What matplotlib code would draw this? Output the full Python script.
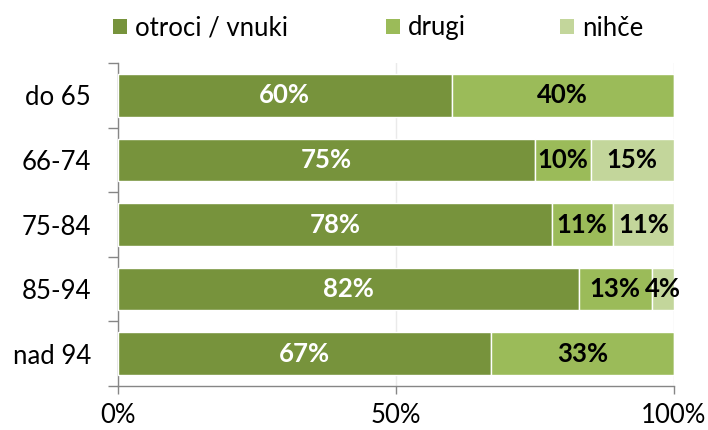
import matplotlib
matplotlib.use("Agg")
import matplotlib.pyplot as plt
from matplotlib.patches import Patch
import numpy as np

plt.rcParams['font.family'] = ['Lato', 'DejaVu Sans']

categories = ["do 65", "66-74", "75-84", "85-94", "nad 94"]
series_names = ["otroci / vnuki", "drugi", "nihče"]
otroci = [60, 75, 78, 82, 67]
drugi = [40, 10, 11, 13, 33]
nihce = [0, 15, 11, 4, 0]
x_ticks = [0, 50, 100]
x_tick_labels = ["0%", "50%", "100%"]

colors = ["#77933C", "#9BBB59", "#C3D69B"]
text_colors = ["white", "black", "black"]

W, H = 708, 430
fig = plt.figure(figsize=(W / 100, H / 100), dpi=100)
ax = fig.add_axes([118 / W, 1 - 386 / H, (674 - 118) / W, (386 - 63) / H])

data = np.array([otroci, drugi, nihce], dtype=float)
shares = data / data.sum(axis=0) * 100
y = np.arange(len(categories))

left = np.zeros(len(categories))
for i, name in enumerate(series_names):
    ax.barh(y, shares[i], left=left, height=0.66, color=colors[i],
            edgecolor="white", linewidth=1.0, label=name, zorder=3)
    for j in range(len(categories)):
        if data[i, j] > 0:
            ax.text(left[j] + shares[i, j] / 2, y[j], f"{int(data[i, j])}%",
                    ha="center", va="center", color=text_colors[i],
                    fontsize=18.5, fontweight="bold", zorder=4)
    left += shares[i]

ax.set_xlim(0, 100)
ax.set_ylim(len(categories) - 0.5, -0.5)
ax.set_yticks(y)
ax.set_yticklabels(categories, fontsize=18.5)
ax.set_yticks(np.arange(len(categories) + 1) - 0.5, minor=True)
ax.tick_params(axis="y", which="major", length=0, pad=19.5)
ax.tick_params(axis="y", which="minor", length=7, width=1, color="#868686", direction="out")
ax.set_xticks(x_ticks)
ax.set_xticklabels(x_tick_labels, fontsize=18.5)
ax.tick_params(axis="x", which="major", length=6, width=1, color="#868686", pad=6)

ax.grid(axis="x", color="#EAEAEA", linewidth=1, zorder=0)
for side in ["top", "right"]:
    ax.spines[side].set_visible(False)
for side in ["left", "bottom"]:
    ax.spines[side].set_color("#868686")
    ax.spines[side].set_linewidth(1)

# legend entries placed individually along the top
legend_x = [113, 386, 560]
for name, c, lx in zip(series_names, colors, legend_x):
    fig.legend([Patch(facecolor=c, edgecolor="none")], [name], loc="center left",
               bbox_to_anchor=(lx / W, 1 - 28 / H), frameon=False, fontsize=18.5,
               handlelength=0.53, handleheight=0.53, handletextpad=0.34,
               borderpad=0, borderaxespad=0)

fig.savefig("out.png", dpi=100)
